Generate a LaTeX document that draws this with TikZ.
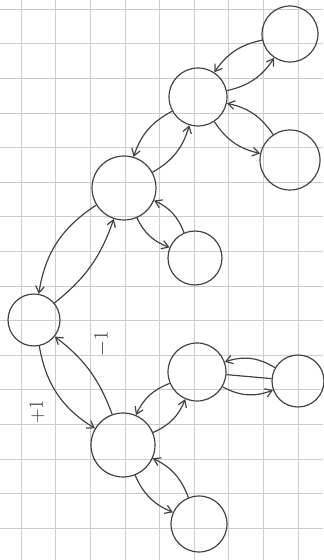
\documentclass[tikz,border=0pt]{standalone}
\usetikzlibrary{arrows.meta}
\begin{document}
\begin{tikzpicture}[x=0.03cm, y=0.03cm,
  every node/.style={font=\LARGE, text=black!80},
  state/.style={draw=black!75, circle, line width=1pt, inner sep=0pt},
  link/.style={draw=black!75, line width=1pt, -{Straight Barb[length=2mm, width=2.6mm]}},
  plain/.style={draw=black!75, line width=1pt},
  gridline/.style={draw={rgb,255:red,200;green,205;blue,212}, line width=0.5pt}]
  \useasboundingbox (0,0) rectangle (323,560);

  % squared paper
  \foreach \i in {0,...,8}
    \draw[gridline] ({21+34.6*\i},0) -- ({21+34.6*\i},560);
  \foreach \j in {0,...,15}
    \draw[gridline] (0,{551-34.6*\j}) -- (323,{551-34.6*\j});

  \node[state, minimum size=1.56cm] (root) at (34,240) {};

  \node[state, minimum size=1.92cm] (up) at (124,372) {};
  \node[state, minimum size=1.74cm] (upA) at (198,463) {};
  \node[state, minimum size=1.68cm] (upAA) at (290,526) {};
  \node[state, minimum size=1.80cm] (upAB) at (290,400) {};
  \node[state, minimum size=1.62cm] (upB) at (195,302) {};

  \node[state, minimum size=1.92cm] (low) at (123,115) {};
  \node[state, minimum size=1.74cm] (lowA) at (197,188) {};
  \node[state, minimum size=1.56cm] (lowAA) at (298,179) {};
  \node[state, minimum size=1.68cm] (lowB) at (199,36) {};

  \draw[link] (up) to[bend right=24] (root);
  \draw[link] (root) to[bend right=16] (up);
  \draw[link] (root) to[bend right=24] (low);
  \draw[link] (low) to[bend right=16] (root);

  \draw[link] (upA) to[bend right=22] (up);
  \draw[link] (up) to[bend right=22] (upA);
  \draw[link] (upAA) to[bend right=22] (upA);
  \draw[link] (upA) to[bend right=22] (upAA);
  \draw[link] (upAB) to[bend right=22] (upA);
  \draw[link] (upA) to[bend right=22] (upAB);
  \draw[link] (upB) to[bend right=22] (up);
  \draw[link] (up) to[bend right=22] (upB);

  \draw[link] (lowA) to[bend right=22] (low);
  \draw[link] (low) to[bend right=22] (lowA);
  \draw[link] (lowAA) to[bend right=25] (lowA);
  \draw[plain] (lowA) -- (lowAA);
  \draw[link] (lowA) to[bend right=25] (lowAA);
  \draw[link] (lowB) to[bend right=22] (low);
  \draw[link] (low) to[bend right=22] (lowB);

  \node[rotate=90] (plus) at (37,148) {$+1$};
  \node[rotate=90] (minus) at (102,216) {$-1$};
\end{tikzpicture}
\end{document}
